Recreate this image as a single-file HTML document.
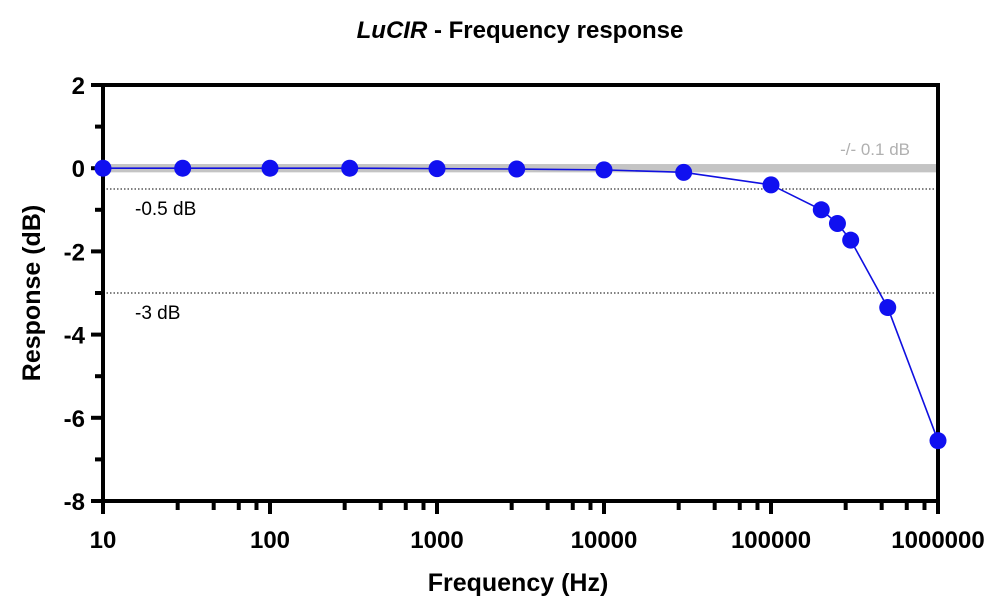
<!DOCTYPE html>
<html><head><meta charset="utf-8"><style>
body{margin:0;background:#fff;}
svg{display:block;font-family:"Liberation Sans",Arial,sans-serif;}
</style></head><body>
<svg id="chart" width="1005" height="613">
<text x="520" y="38" text-anchor="middle" font-size="24" font-weight="bold"><tspan font-style="italic">LuCIR</tspan> - Frequency response</text>
<text x="518" y="591" text-anchor="middle" font-size="25" font-weight="bold">Frequency (Hz)</text>
<text transform="translate(40,293) rotate(-90)" text-anchor="middle" font-size="25" font-weight="bold">Response (dB)</text>
<g id="g"></g>
</svg>
<script>
const freqs=[10,30,100,300,1000,3000,10000,30000,100000,200000,250000,300000,500000,1000000];
const response=[0,0,0,0,-0.01,-0.02,-0.04,-0.1,-0.4,-1.0,-1.33,-1.73,-3.35,-6.55];
const yTicks=[2,0,-2,-4,-6,-8];
const xTicks=[10,100,1000,10000,100000,1000000];
const xTickLabels=["10","100","1000","10000","100000","1000000"];
const refLines=[-0.5,-3];
const refLabels=["-0.5 dB","-3 dB"];
const band=0.1;

const X0=103,X1=938,Y0=85,Y1=501;
const x=v=>X0+(Math.log10(v)-1)/5*(X1-X0);
const y=v=>Y0+(2-v)/10*(Y1-Y0);
const NS="http://www.w3.org/2000/svg";
const g=document.getElementById('g');
function mk(t,a){const e=document.createElementNS(NS,t);for(const k in a)e.setAttribute(k,a[k]);g.appendChild(e);return e;}

let r=mk('rect',{x:X0,y:y(band),width:X1-X0,height:y(-band)-y(band),fill:'#c4c4c4'});


let t=mk('text',{x:910,y:155,'text-anchor':'end','font-size':17,fill:'#b0b0b0'});t.textContent='-/- 0.1 dB';



refLines.forEach((v,i)=>{
 let l=mk('line',{x1:X0,x2:X1,y1:y(v),y2:y(v),stroke:'#000','stroke-width':1,'stroke-dasharray':'1.5,2'});
 
 
 let tt=mk('text',{x:135,y:y(v)+26,'font-size':19});tt.textContent=refLabels[i];
 
 
});

let f=mk('path',{d:`M${X0},${Y0}H${X1}V${Y1}H${X0}Z`,fill:'none',stroke:'#000','stroke-width':4});



yTicks.forEach(v=>{
 let l=mk('line',{x1:X0-12,x2:X0,y1:y(v),y2:y(v),stroke:'#000','stroke-width':4});
 
 
 let tt=mk('text',{x:X0-18,y:y(v)+9,'text-anchor':'end','font-size':24,'font-weight':'bold'});tt.textContent=v;
 
 
});
for(let v=1;v>-8;v-=2){
 let l=mk('line',{x1:X0-8,x2:X0,y1:y(v),y2:y(v),stroke:'#000','stroke-width':4});
 
 
}
xTicks.forEach((v,i)=>{
 let l=mk('line',{x1:x(v),x2:x(v),y1:Y1,y2:Y1+13,stroke:'#000','stroke-width':4});
 
 
 let tt=mk('text',{x:x(v),y:Y1+47,'text-anchor':'middle','font-size':24,'font-weight':'bold'});tt.textContent=xTickLabels[i];
 
 
 if(i<xTicks.length-1)[2.8,4.6,6.5,8.3].forEach(m=>{
  let ml=mk('line',{x1:x(v*m),x2:x(v*m),y1:Y1,y2:Y1+9,stroke:'#000','stroke-width':4});
  
  
 });
});

let p=mk('polyline',{points:freqs.map((f,i)=>x(f)+','+y(response[i])).join(' '),fill:'none',stroke:'#1010e0','stroke-width':1.6});


freqs.forEach((f,i)=>{
 let c=mk('circle',{cx:x(f),cy:y(response[i]),r:8.5,fill:'#1010f0'});
 
 
});
</script>
</body></html>
